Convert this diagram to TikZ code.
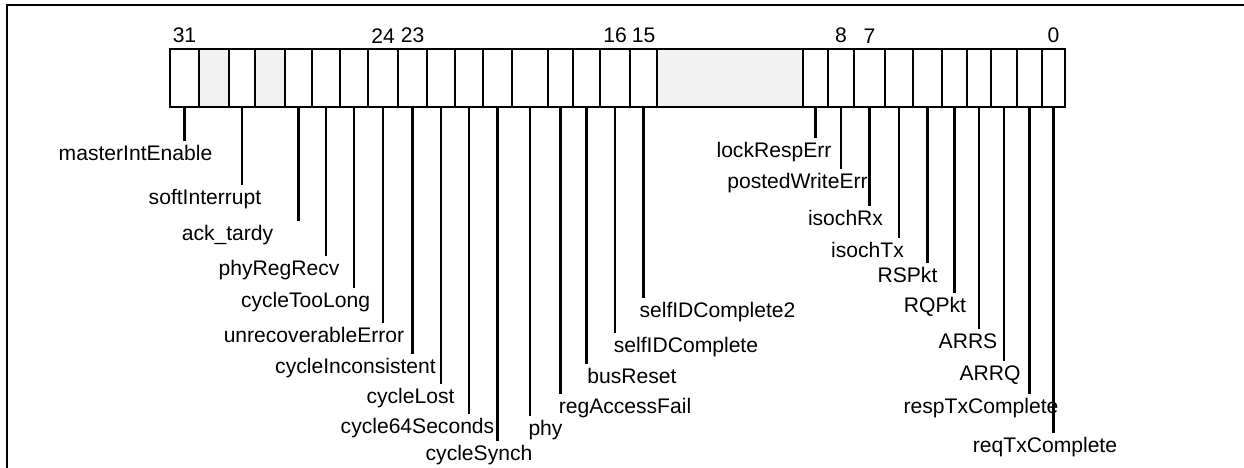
\documentclass[tikz,border=0pt]{standalone}
\usepackage{fontspec}
\setmainfont{Liberation Sans}
\usepackage{tikz}
\usetikzlibrary{positioning}

\begin{document}
\begin{tikzpicture}[
    cell/.style ={rectangle, draw=black, line width=1.3pt,
                  minimum height=1.16cm, inner sep=0pt, outer sep=0pt},
    rsvd/.style ={cell, fill=gray!10},
    hcell/.style={cell, line width=1.6pt},
    bitno/.style={font=\fontsize{12}{14}\selectfont, inner sep=0pt},
    lbl/.style  ={font=\fontsize{12}{14}\selectfont, inner sep=2pt,
                  text height=9pt, text depth=2.5pt},
    lead/.style ={line width=1.4pt, black},
    frame/.style={line width=1.2pt, black},
]

  \useasboundingbox (0,0) rectangle (24.88,-9.36);

  %% ---- open frame (left and top edges only) ----
  \coordinate (fbl) at (0.14,-9.40);
  \coordinate (ftl) at (0.14,-0.10);
  \coordinate (ftr) at (24.92,-0.10);
  \draw[frame] (fbl) -- (ftl) -- (ftr);

  %% ---- register cells, bit 31 on the left, chained edge to edge ----
  \node[cell,  minimum width=0.58cm, anchor=west] (b31) at (3.40,-1.56) {};
  \node[rsvd,  minimum width=0.60cm, right=0pt of b31] (b30) {};
  \node[cell,  minimum width=0.52cm, right=0pt of b30] (b29) {};
  \node[rsvd,  minimum width=0.60cm, right=0pt of b29] (b28) {};
  \node[cell,  minimum width=0.54cm, right=0pt of b28] (b27) {};
  \node[cell,  minimum width=0.56cm, right=0pt of b27] (b26) {};
  \node[cell,  minimum width=0.56cm, right=0pt of b26] (b25) {};
  \node[cell,  minimum width=0.60cm, right=0pt of b25] (b24) {};
  \node[cell,  minimum width=0.58cm, right=0pt of b24] (b23) {};
  \node[cell,  minimum width=0.56cm, right=0pt of b23] (b22) {};
  \node[cell,  minimum width=0.56cm, right=0pt of b22] (b21) {};
  \node[cell,  minimum width=0.58cm, right=0pt of b21] (b20) {};
  \node[cell,  minimum width=0.72cm, right=0pt of b20] (b19) {};
  \node[hcell, minimum width=0.50cm, right=0pt of b19] (b18) {};
  \node[cell,  minimum width=0.54cm, right=0pt of b18] (b17) {};
  \node[cell,  minimum width=0.60cm, right=0pt of b17] (b16) {};
  \node[hcell, minimum width=0.54cm, right=0pt of b16] (b15) {};
  \node[rsvd,  minimum width=2.92cm, right=0pt of b15] (b10) {};
  \node[cell,  minimum width=0.50cm, right=0pt of b10] (b9)  {};
  \node[cell,  minimum width=0.52cm, right=0pt of b9]  (b8)  {};
  \node[cell,  minimum width=0.62cm, right=0pt of b8]  (b7)  {};
  \node[cell,  minimum width=0.56cm, right=0pt of b7]  (b6)  {};
  \node[cell,  minimum width=0.58cm, right=0pt of b6]  (b5)  {};
  \node[cell,  minimum width=0.50cm, right=0pt of b5]  (b4)  {};
  \node[cell,  minimum width=0.48cm, right=0pt of b4]  (b3)  {};
  \node[cell,  minimum width=0.52cm, right=0pt of b3]  (b2)  {};
  \node[cell,  minimum width=0.50cm, right=0pt of b2]  (b1)  {};
  \node[cell,  minimum width=0.46cm, right=0pt of b1]  (b0)  {};

  %% ---- bit numbers over the cells ----
  \node[bitno, above=3.2pt of b31] (n31) {31};
  \node[bitno, above=3.2pt of b24] (n24) {24};
  \node[bitno, above=3.2pt of b23] (n23) {23};
  \node[bitno, above=3.2pt of b16] (n16) {16};
  \node[bitno, above=3.2pt of b15] (n15) {15};
  \node[bitno, above=3.2pt of b8]  (n8)  {8};
  \node[bitno, above=3.2pt of b7]  (n7)  {7};
  \node[bitno, above=3.2pt of b0]  (n0)  {0};

  %% ---- field names, staggered downwards ----
  \node[lbl] (l31) at (2.71,-3.10)  {masterIntEnable};
  \node[lbl] (l29) at (4.10,-3.98)  {softInterrupt};
  \node[lbl] (l27) at (4.55,-4.70)  {ack\_tardy};
  \node[lbl] (l26) at (5.58,-5.40)  {phyRegRecv};
  \node[lbl] (l25) at (6.11,-6.04)  {cycleTooLong};
  \node[lbl] (l24) at (6.28,-6.74)  {unrecoverableError};
  \node[lbl] (l23) at (7.11,-7.36)  {cycleInconsistent};
  \node[lbl] (l22) at (8.21,-7.96)  {cycleLost};
  \node[lbl] (l21) at (8.35,-8.56)  {cycle64Seconds};
  \node[lbl] (l20) at (9.58,-9.10)  {cycleSynch};
  \node[lbl] (l19) at (10.91,-8.60) {phy};
  \node[lbl] (l18) at (12.50,-8.16) {regAccessFail};
  \node[lbl] (l17) at (12.64,-7.56) {busReset};
  \node[lbl] (l16) at (13.72,-6.94) {selfIDComplete};
  \node[lbl] (l15) at (14.35,-6.24) {selfIDComplete2};
  \node[lbl] (l9)  at (15.48,-3.04) {lockRespErr};
  \node[lbl] (l8)  at (15.95,-3.66) {postedWriteErr};
  \node[lbl] (l7)  at (16.91,-4.40) {isochRx};
  \node[lbl] (l6)  at (17.35,-5.04) {isochTx};
  \node[lbl] (l5)  at (18.15,-5.54) {RSPkt};
  \node[lbl] (l4)  at (18.70,-6.14) {RQPkt};
  \node[lbl] (l3)  at (19.36,-6.86) {ARRS};
  \node[lbl] (l2)  at (19.80,-7.50) {ARRQ};
  \node[lbl] (l1)  at (19.62,-8.16) {respTxComplete};
  \node[lbl] (l0)  at (20.90,-8.94) {reqTxComplete};

  %% ---- leader lines from each cell down to its name ----
  \draw[lead] (b31.south) -- (b31.south |- l31.north);
  \draw[lead] (b29.south) -- (b29.south |- l29.north);
  \draw[lead] (b27.south) -- (b27.south |- l27.north);
  \draw[lead] (b26.south) -- (b26.south |- l26.north);
  \draw[lead] (b25.south) -- (b25.south |- l25.north);
  \draw[lead] (b24.south) -- (b24.south |- l24.north);
  \draw[lead] (b23.south) -- (b23.south |- l23.north);
  \draw[lead] (b22.south) -- (b22.south |- l22.north);
  \draw[lead] (b21.south) -- (b21.south |- l21.north);
  \draw[lead] (b20.south) -- (b20.south |- l20.north);
  \draw[lead] (b19.south) -- (b19.south |- l19.north);
  \draw[lead] (b18.south) -- (b18.south |- l18.north);
  \draw[lead] (b17.south) -- (b17.south |- l17.north);
  \draw[lead] (b16.south) -- (b16.south |- l16.north);
  \draw[lead] (b15.south) -- (b15.south |- l15.north);
  \draw[lead] (b9.south)  -- (b9.south  |- l9.north);
  \draw[lead] (b8.south)  -- (b8.south  |- l8.north);
  \draw[lead] (b7.south)  -- (b7.south  |- l7.north);
  \draw[lead] (b6.south)  -- (b6.south  |- l6.north);
  \draw[lead] (b5.south)  -- (b5.south  |- l5.north);
  \draw[lead] (b4.south)  -- (b4.south  |- l4.north);
  \draw[lead] (b3.south)  -- (b3.south  |- l3.north);
  \draw[lead] (b2.south)  -- (b2.south  |- l2.north);
  \draw[lead] (b1.south)  -- (b1.south  |- l1.north);
  \draw[lead] (b0.south)  -- (b0.south  |- l0.north);

\end{tikzpicture}
\end{document}
